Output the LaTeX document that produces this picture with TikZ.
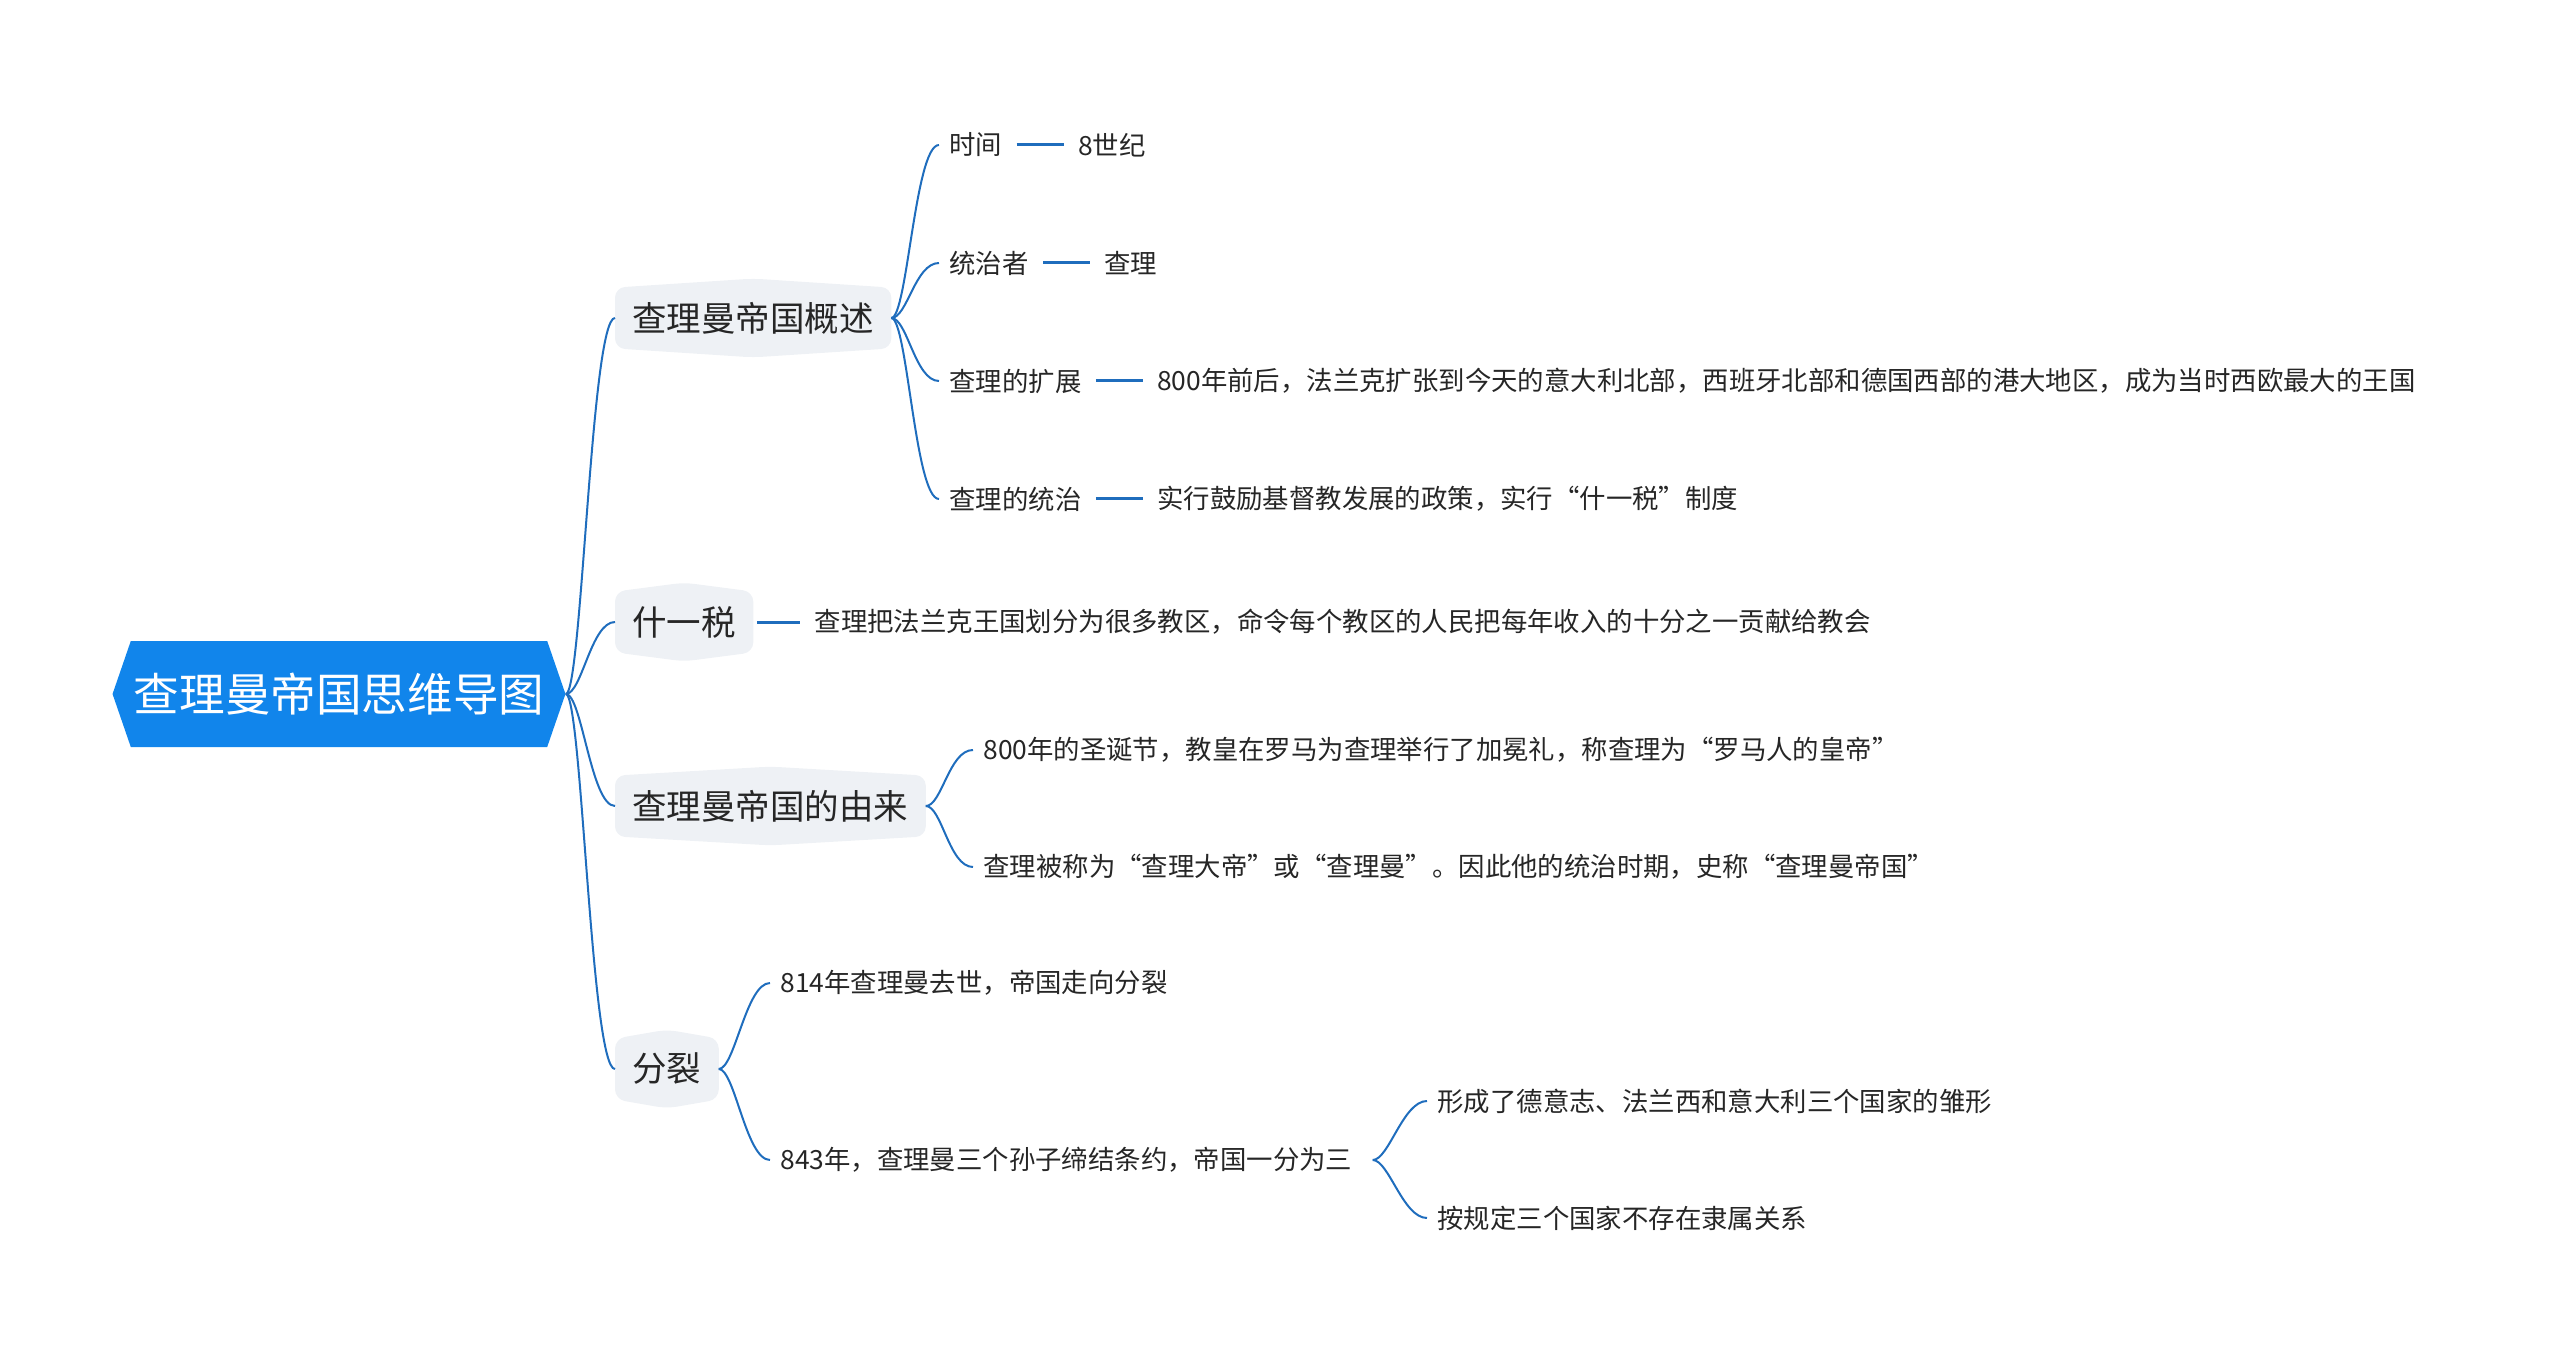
\documentclass[tikz,border=0pt]{standalone}
\usepackage{fontspec}
\setmainfont{Noto Sans CJK SC}
\usepackage{tikz}
\usetikzlibrary{positioning, shapes.symbols, backgrounds}

\definecolor{rootblue}{HTML}{1185EB}
\definecolor{linkblue}{HTML}{1F6DBD}
\definecolor{topicgray}{HTML}{EEF1F5}
\definecolor{inkdark}{HTML}{262626}

\begin{document}
\begin{tikzpicture}[
  x=0.5pt, y=-0.5pt,
  every node/.style={text=inkdark},
  root/.style={signal, signal to=west and east, signal pointer angle=142,
               fill=rootblue, text=white, font=\fontsize{22.8pt}{26pt}\selectfont,
               minimum height=53pt, inner xsep=1.5pt, inner ysep=0pt},
  topic/.style={font=\fontsize{17.25pt}{20pt}\selectfont, minimum height=30pt,
                inner xsep=8.5pt, inner ysep=0pt, anchor=west},
  leaf/.style={font=\fontsize{13.2pt}{16pt}\selectfont, inner xsep=5pt,
               inner ysep=2pt, anchor=west},
  link/.style={linkblue, line width=1pt, out=0, in=180,
               out distance=8pt, in distance=12pt},
  tie/.style={linkblue, line width=1.5pt, shorten <=2pt, shorten >=2pt},
]
  \useasboundingbox (0,0) rectangle (2560,1358);

  \node[root] (root) at (339,694) {查理曼帝国思维导图};

  \node[topic] (t1) at (615,318)  {查理曼帝国概述};
  \node[topic] (t2) at (615,622)  {什一税};
  \node[topic] (t3) at (615,806)  {查理曼帝国的由来};
  \node[topic] (t4) at (615,1069) {分裂};

  % overview
  \node[leaf] (a1) at (939,145) {时间};
  \node[leaf] (a2) at (939,263) {统治者};
  \node[leaf] (a3) at (939,381) {查理的扩展};
  \node[leaf] (a4) at (939,499) {查理的统治};
  \node[leaf, right=27.5pt of a1] (a1v) {8世纪};
  \node[leaf, right=27.5pt of a2] (a2v) {查理};
  \node[leaf, right=27.5pt of a3] (a3v) {800年前后，法兰克扩张到今天的意大利北部，西班牙北部和德国西部的港大地区，成为当时西欧最大的王国};
  \node[leaf, right=27.5pt of a4] (a4v) {实行鼓励基督教发展的政策，实行“什一税”制度};

  % tithe
  \node[leaf, right=25.5pt of t2] (b1) {查理把法兰克王国划分为很多教区，命令每个教区的人民把每年收入的十分之一贡献给教会};

  % origin
  \node[leaf] (c1) at (973,750) {800年的圣诞节，教皇在罗马为查理举行了加冕礼，称查理为“罗马人的皇帝”};
  \node[leaf] (c2) at (973,867) {查理被称为“查理大帝”或“查理曼”。因此他的统治时期，史称“查理曼帝国”};

  % split
  \node[leaf] (d1) at (770,983)  {814年查理曼去世，帝国走向分裂};
  \node[leaf] (d2) at (770,1160) {843年，查理曼三个孙子缔结条约，帝国一分为三};
  \node[leaf] (e1) at (1427,1101) {形成了德意志、法兰西和意大利三个国家的雏形};
  \node[leaf] (e2) at (1427,1218) {按规定三个国家不存在隶属关系};

  \begin{scope}[on background layer]
    \foreach \t in {t1,t2,t3,t4}
      \fill[topicgray, rounded corners=5pt] (\t.south west) -- (\t.north west)
        -- ([yshift=4.5pt]\t.north) -- (\t.north east) -- (\t.south east)
        -- ([yshift=-4.5pt]\t.south) -- cycle;
  \end{scope}

  \draw[link] (root.east) to (t1.west);
  \draw[link] (root.east) to (t2.west);
  \draw[link] (root.east) to (t3.west);
  \draw[link] (root.east) to (t4.west);

  \draw[link] (t1.east) to (a1.west);
  \draw[link] (t1.east) to (a2.west);
  \draw[link] (t1.east) to (a3.west);
  \draw[link] (t1.east) to (a4.west);
  \draw[tie] (a1.east) -- (a1v.west);
  \draw[tie] (a2.east) -- (a2v.west);
  \draw[tie] (a3.east) -- (a3v.west);
  \draw[tie] (a4.east) -- (a4v.west);

  \draw[tie] (t2.east) -- (b1.west);

  \draw[link] (t3.east) to (c1.west);
  \draw[link] (t3.east) to (c2.west);

  \draw[link] (t4.east) to (d1.west);
  \draw[link] (t4.east) to (d2.west);
  \draw[link] ([xshift=5pt]d2.east) to (e1.west);
  \draw[link] ([xshift=5pt]d2.east) to (e2.west);
\end{tikzpicture}
\end{document}
